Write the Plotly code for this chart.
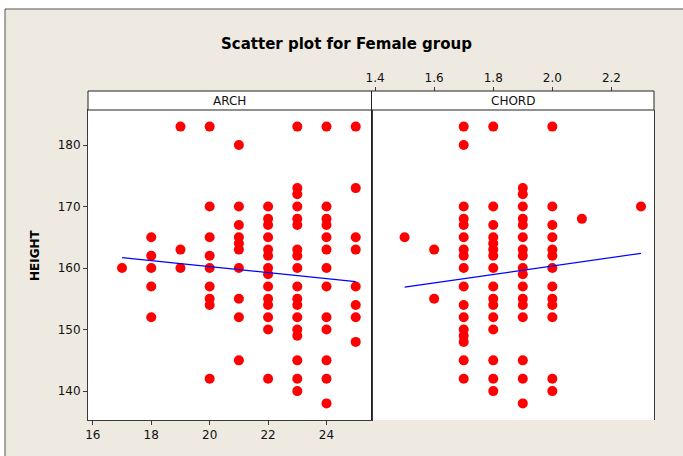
import plotly.graph_objects as go

# ---------------- data ----------------
arch_x = [17,
          18, 18, 18, 18, 18,
          19, 19, 19,
          20, 20, 20, 20, 20, 20, 20, 20, 20,
          21, 21, 21, 21, 21, 21, 21, 21, 21, 21,
          22, 22, 22, 22, 22, 22, 22, 22, 22, 22, 22, 22, 22, 22,
          23, 23, 23, 23, 23, 23, 23, 23, 23, 23, 23, 23, 23, 23, 23, 23, 23, 23,
          24, 24, 24, 24, 24, 24, 24, 24, 24, 24, 24, 24, 24,
          25, 25, 25, 25, 25, 25, 25, 25]
arch_height = [160,
               165, 162, 160, 157, 152,
               183, 163, 160,
               183, 170, 165, 162, 160, 157, 155, 154, 142,
               180, 170, 167, 165, 164, 163, 160, 155, 152, 145,
               170, 168, 167, 165, 163, 162, 160, 159, 157, 155, 154, 152, 150, 142,
               183, 173, 172, 170, 168, 167, 163, 162, 160, 157, 155, 154, 152, 150, 149, 145, 142, 140,
               183, 170, 168, 167, 165, 163, 160, 157, 152, 150, 145, 142, 138,
               183, 173, 165, 163, 157, 154, 152, 148]

chord_x = [1.5,
           1.6, 1.6,
           1.7, 1.7, 1.7, 1.7, 1.7, 1.7, 1.7, 1.7, 1.7, 1.7, 1.7, 1.7, 1.7, 1.7, 1.7, 1.7, 1.7,
           1.8, 1.8, 1.8, 1.8, 1.8, 1.8, 1.8, 1.8, 1.8, 1.8, 1.8, 1.8, 1.8, 1.8, 1.8, 1.8,
           1.9, 1.9, 1.9, 1.9, 1.9, 1.9, 1.9, 1.9, 1.9, 1.9, 1.9, 1.9, 1.9, 1.9, 1.9, 1.9, 1.9,
           2.0, 2.0, 2.0, 2.0, 2.0, 2.0, 2.0, 2.0, 2.0, 2.0, 2.0, 2.0, 2.0,
           2.1,
           2.3]
chord_height = [165,
                163, 155,
                183, 180, 170, 168, 167, 165, 163, 162, 160, 157, 154, 152, 150, 149, 148, 145, 142,
                183, 170, 167, 165, 164, 163, 162, 160, 157, 155, 154, 152, 150, 145, 142, 140,
                173, 172, 170, 168, 167, 165, 163, 162, 160, 159, 157, 155, 154, 152, 145, 142, 138,
                183, 170, 167, 165, 163, 162, 160, 157, 155, 154, 152, 142, 140,
                168,
                170]

# fitted regression lines (endpoints)
arch_fit_x = [17, 25]
arch_fit_y = [161.7, 157.8]
chord_fit_x = [1.5, 2.3]
chord_fit_y = [156.9, 162.4]

arch_ticks = [16, 18, 20, 22, 24]
chord_ticks = [1.4, 1.6, 1.8, 2.0, 2.2]
height_ticks = [140, 150, 160, 170, 180]

panel_labels = ["ARCH", "CHORD"]
title_text = "Scatter plot for Female group"
y_title = "HEIGHT"

# ---------------- figure ----------------
FONT = "DejaVu Sans"
BG = "#EEEAE1"
EDGE = "#3a3a3a"

W, H = 683, 456
L, R, T, B = 88, 29, 91, 36
pw, ph = W - L - R, H - T - B


def px(x):
    return (x - L) / pw


def py(y):
    return (H - B - y) / ph


split = px(371.5)
ytop = py(110)

fig = go.Figure()

fig.add_trace(go.Scatter(x=arch_x, y=arch_height, mode="markers",
                         marker=dict(color="#FF0000", size=10),
                         xaxis="x", yaxis="y", showlegend=False))
fig.add_trace(go.Scatter(x=arch_fit_x, y=arch_fit_y, mode="lines",
                         line=dict(color="#0000FF", width=1.2),
                         xaxis="x", yaxis="y", showlegend=False))
fig.add_trace(go.Scatter(x=chord_x, y=chord_height, mode="markers",
                         marker=dict(color="#FF0000", size=10),
                         xaxis="x2", yaxis="y2", showlegend=False))
fig.add_trace(go.Scatter(x=chord_fit_x, y=chord_fit_y, mode="lines",
                         line=dict(color="#0000FF", width=1.2),
                         xaxis="x2", yaxis="y2", showlegend=False))

tickfont = dict(family=FONT, size=12, color="#111111")
common_axis = dict(showgrid=False, zeroline=False, showline=True, linecolor=EDGE,
                   linewidth=1, mirror=True, ticks="outside", ticklen=4,
                   tickcolor=EDGE, tickfont=tickfont)

yrange = [135.3, 185.7]

fig.update_layout(
    width=W, height=H,
    margin=dict(l=L, r=R, t=T, b=B),
    paper_bgcolor=BG, plot_bgcolor="white",
    xaxis=dict(domain=[0, split], range=[15.835, 25.54], tickvals=arch_ticks,
               anchor="y", **common_axis),
    yaxis=dict(domain=[0, ytop], range=yrange, tickvals=height_ticks,
               anchor="x", **common_axis),
    xaxis2=dict(domain=[split, 1], range=[1.388, 2.344], tickvals=chord_ticks,
                tickformat=".1f", side="top", anchor="free", position=1.0,
                showgrid=False, zeroline=False, showline=False,
                ticks="outside", ticklen=4, tickcolor=EDGE, tickfont=tickfont),
    yaxis2=dict(domain=[0, ytop], range=yrange, anchor="x2", matches="y",
                showticklabels=False, showgrid=False, zeroline=False,
                showline=True, linecolor=EDGE, linewidth=1, mirror=True, ticks=""),
)

shapes = []
# white outside of the outer frame
shapes.append(dict(type="rect", xref="paper", yref="paper", x0=px(0), x1=px(W),
                   y0=py(9), y1=py(0), fillcolor="white", line=dict(width=0), layer="below"))
shapes.append(dict(type="rect", xref="paper", yref="paper", x0=px(0), x1=px(5),
                   y0=py(H), y1=py(0), fillcolor="white", line=dict(width=0), layer="below"))
# outer frame lines
shapes.append(dict(type="line", xref="paper", yref="paper", x0=px(5), x1=px(W + 5),
                   y0=py(9), y1=py(9), line=dict(color="#555555", width=1)))
shapes.append(dict(type="line", xref="paper", yref="paper", x0=px(5), x1=px(5),
                   y0=py(9), y1=py(H + 5), line=dict(color="#555555", width=1)))
# strip
shapes.append(dict(type="rect", xref="paper", yref="paper", x0=0, x1=1,
                   y0=ytop, y1=1, fillcolor="white", line=dict(color="#222222", width=1)))
# divider line
shapes.append(dict(type="line", xref="paper", yref="paper", x0=split, x1=split,
                   y0=0, y1=1, line=dict(color="#222222", width=1)))
fig.update_layout(shapes=shapes)

annotations = [
    dict(text="<b>" + title_text + "</b>", xref="paper", yref="paper",
         x=px(346), y=py(44), showarrow=False, xanchor="center", yanchor="middle",
         font=dict(family=FONT, size=15, color="black")),
    dict(text=panel_labels[0], xref="paper", yref="paper", x=split / 2, y=(ytop + 1) / 2,
         showarrow=False, xanchor="center", yanchor="middle",
         font=dict(family=FONT, size=12, color="#111111")),
    dict(text=panel_labels[1], xref="paper", yref="paper", x=(split + 1) / 2, y=(ytop + 1) / 2,
         showarrow=False, xanchor="center", yanchor="middle",
         font=dict(family=FONT, size=12, color="#111111")),
    dict(text="<b>" + y_title + "</b>", xref="paper", yref="paper", x=px(35), y=py(255),
         showarrow=False, xanchor="center", yanchor="middle", textangle=-90,
         font=dict(family=FONT, size=12, color="black")),
]
fig.update_layout(annotations=annotations)

fig.write_html("out.html", config={"displayModeBar": False},
               post_script="document.body.style.margin='0';document.body.style.overflow='hidden';")
